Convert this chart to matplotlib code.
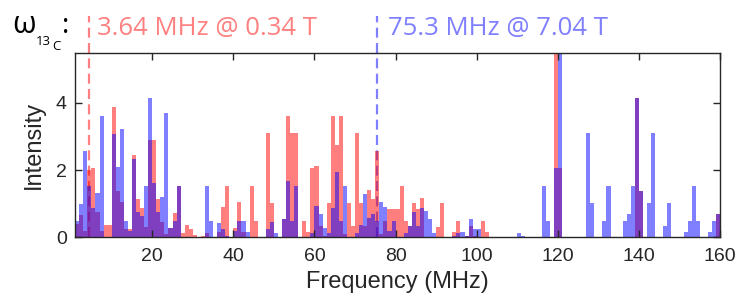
import numpy as np
import matplotlib
matplotlib.use("Agg")
import matplotlib.pyplot as plt

# bin left edges (MHz), bin width 1 MHz
bin_edges = list(range(1, 160))

# 13C spectrum at 0.34 T (red) and at 7.04 T (blue), read per 1-MHz bin
red_intensity = [
    0.40, 0.67, 0.20, 2.00, 2.07, 0.76, 0.20, 0.37, 0.37, 3.87,
    1.38, 1.06, 0.24, 0.26, 2.45, 1.15, 0.88, 0.32, 2.90, 2.90,
    1.14, 0.47, 0.10, 0.27, 0.71, 1.54, 0.12, 0.37, 0.24, 0.07,
    0.00, 0.05, 0.12, 0.00, 0.00, 0.16, 0.91, 1.54, 0.00, 0.29,
    1.06, 0.16, 0.00, 1.54, 0.50, 0.00, 0.00, 3.10, 1.01, 0.00,
    0.00, 0.54, 3.61, 3.10, 3.10, 0.00, 0.50, 0.16, 2.05, 2.12,
    0.34, 0.04, 1.01, 3.61, 2.74, 3.61, 0.10, 1.01, 0.34, 3.10,
    1.01, 0.34, 1.41, 1.14, 2.58, 0.10, 0.50, 0.84, 0.84, 0.84,
    1.54, 0.50, 0.34, 1.03, 0.84, 1.18, 0.00, 0.00, 0.00, 0.32,
    1.01, 0.00, 0.00, 0.16, 0.50, 0.00, 0.04, 0.34, 0.05, 0.00,
    0.50, 0.16, 0.00, 0.00, 0.00, 0.00, 0.00, 0.00, 0.00, 0.00,
    0.00, 0.00, 0.00, 0.00, 0.00, 0.00, 0.00, 0.00, 8.00, 2.06,
    0.00, 0.00, 0.00, 0.00, 0.00, 0.00, 0.00, 0.00, 0.00, 0.00,
    0.00, 0.00, 0.00, 0.00, 0.00, 0.00, 0.00, 0.00, 4.14, 1.37,
    0.00, 0.00, 0.00, 0.00, 0.00, 0.00, 0.00, 0.00, 0.00, 0.00,
    0.00, 0.00, 0.00, 0.00, 0.00, 0.00, 0.00, 0.00, 0.68,
]
blue_intensity = [
    0.50, 1.00, 2.58, 1.54, 0.88, 1.33, 3.61, 0.00, 0.00, 3.09,
    2.10, 3.22, 0.50, 0.18, 2.32, 0.76, 0.62, 1.54, 4.14, 1.63,
    0.76, 1.21, 3.71, 0.27, 0.50, 1.54, 0.00, 0.00, 0.00, 0.00,
    0.00, 0.00, 1.54, 0.50, 0.00, 0.44, 0.26, 0.04, 0.00, 0.19,
    0.50, 0.50, 0.16, 0.00, 0.00, 0.00, 0.00, 0.25, 0.47, 0.12,
    0.00, 0.54, 1.68, 0.50, 1.54, 0.00, 0.00, 0.00, 0.12, 0.94,
    0.69, 0.29, 0.14, 0.88, 1.93, 0.50, 1.54, 0.00, 0.00, 0.12,
    0.37, 1.28, 0.57, 0.68, 0.50, 1.06, 0.89, 0.20, 0.50, 0.00,
    0.00, 0.12, 0.34, 0.76, 0.34, 0.87, 0.79, 0.55, 0.12, 0.00,
    0.00, 0.00, 0.00, 0.04, 0.12, 0.16, 0.04, 0.55, 0.25, 0.25,
    0.00, 0.00, 0.00, 0.00, 0.00, 0.00, 0.00, 0.00, 0.00, 0.12,
    0.04, 0.00, 0.00, 0.00, 0.00, 1.54, 0.50, 0.00, 2.06, 8.00,
    0.00, 0.00, 0.00, 0.00, 0.00, 0.00, 3.10, 1.01, 0.00, 0.00,
    0.50, 1.54, 0.00, 0.00, 0.00, 0.50, 0.68, 1.54, 4.14, 1.37,
    0.00, 1.01, 3.10, 0.00, 0.00, 0.34, 1.01, 0.00, 0.00, 0.00,
    0.16, 0.50, 1.54, 0.50, 0.00, 0.00, 0.16, 0.50, 0.68,
]

# 13C Larmor frequencies: labels, and where the dashed markers are drawn
larmor_labels = ["3.64 MHz @ 0.34 T", "75.3 MHz @ 7.04 T"]
marker_x = [4.5, 75.3]
x_ticks = [20, 40, 60, 80, 100, 120, 140, 160]
y_ticks = [0, 2, 4]

RED = (1.0, 0.0, 0.0)
BLUE = (0.0, 0.0, 1.0)
RED_TXT = (1.0, 0.5, 0.5)
BLUE_TXT = (0.5, 0.5, 1.0)
DARK = (0.15, 0.15, 0.15)

plt.rcParams['font.family'] = ['Liberation Sans', 'DejaVu Sans']

fig = plt.figure(figsize=(7.49, 3.0), dpi=100)
W, H = 749, 300
ax = fig.add_axes([75 / W, 1 - 237.3 / H, (720 - 75) / W, (237.3 - 53.3) / H])

ax.bar(bin_edges, red_intensity, width=1.0, align='edge', color=RED, alpha=0.5,
       linewidth=0)
ax.bar(bin_edges, blue_intensity, width=1.0, align='edge', color=BLUE, alpha=0.5,
       linewidth=0)

ax.set_xlim(0.95, 160)
ax.set_ylim(0, 5.48)
ax.set_xticks(x_ticks)
ax.set_yticks(y_ticks)
ax.tick_params(direction='in', length=5, width=1, colors=DARK,
               top=True, right=True, labelsize=14)
ax.tick_params(axis='x', pad=8)
ax.tick_params(axis='y', pad=6)
for s in ax.spines.values():
    s.set_color(DARK)
    s.set_linewidth(1.0)
ax.set_xlabel("Frequency (MHz)", fontsize=17, color=DARK, labelpad=4)
ax.set_ylabel("Intensity", fontsize=17, color=DARK, labelpad=8)

# dashed Larmor-frequency markers reaching up into the title area
for f, c in zip(marker_x, [RED_TXT, BLUE_TXT]):
    ax.plot([f, f], [0, 6.6], ls=(0, (4.5, 2.4)), color=c, lw=1.6,
            clip_on=False, zorder=0)

# omega_{13_C} label built from pieces
fig.text(12 / W, 1 - 33 / H, "ω", fontsize=22, va='baseline', ha='left',
         color='black', family='Open Sans')
fig.text(36 / W, 1 - 45 / H, "13", fontsize=9.5, va='baseline', ha='left',
         color='black', family='Open Sans')
fig.text(52 / W, 1 - 50 / H, "C", fontsize=9.5, va='baseline', ha='left',
         color='black', family='Open Sans')
fig.text(62 / W, 1 - 33 / H, ":", fontsize=20, va='baseline', ha='left',
         color='black', family='Open Sans')

fig.text(97 / W, 1 - 35 / H, larmor_labels[0], fontsize=18.5, va='baseline',
         ha='left', color=RED_TXT, family='Open Sans')
fig.text(388 / W, 1 - 35 / H, larmor_labels[1], fontsize=18.5, va='baseline',
         ha='left', color=BLUE_TXT, family='Open Sans')

fig.savefig("out.png", dpi=100)
